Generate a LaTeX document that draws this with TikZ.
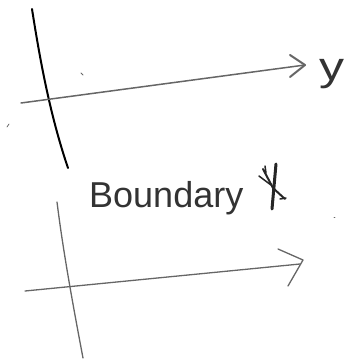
\documentclass[tikz,border=0pt]{standalone}
\usepackage{fontspec}
\setmainfont{Liberation Sans}
\begin{document}
\begin{tikzpicture}[x=1pt,y=-1pt,
  pen/.style={line width=1.6pt,line cap=round,line join=round,black!85},
  penlight/.style={line width=1.3pt,line cap=round,line join=round,black!60},
  hand/.style={inner sep=0pt,text=black!80}]
\useasboundingbox (0,0) rectangle (359,360);
% top axes
\coordinate (t1) at (32,9);
\coordinate (t2) at (68,168);
\coordinate (h1) at (21,103);
\coordinate (h2) at (305,65);
\draw[pen,line width=2pt,black] (t1) .. controls (40,60) and (50,115) .. (t2);
\draw[penlight,line width=1.5pt] (h1) -- (h2);
\draw[penlight,line width=2pt] (290,55) -- (h2) -- (290,77);
\node[hand,anchor=base west,font=\fontsize{40}{40}\selectfont,xscale=1.25] (ylab) at (319,80) {y};
% stray marks
\draw[penlight,line width=0.8pt] (7,127) -- (9,124);
\draw[penlight,line width=0.8pt] (81,73) -- (83,75);
\draw[penlight,line width=0.8pt] (334,217) -- (335,217);
% label
\node[hand,anchor=base west,font=\fontsize{36}{36}\selectfont] (bnd) at (89,207) {Boundary};
% scribbled symbol
\draw[pen,line width=3pt] (276,164) -- (272,209);
\draw[pen,line width=2pt] (263,169) -- (273,188) -- (285,199);
\draw[pen,line width=1.5pt] (259,176) -- (271,185);
\draw[pen,line width=1.5pt] (265,166) -- (266,173);
\draw[pen,line width=1.5pt] (280,199) -- (286,198);
% bottom axes
\coordinate (b1) at (57,202);
\coordinate (b2) at (83,358);
\coordinate (g1) at (25,291);
\coordinate (g2) at (300,264);
\draw[penlight] (b1) .. controls (63,250) and (72,300) .. (b2);
\draw[penlight] (g1) -- (g2);
\draw[penlight] (278,249) -- (303,260) -- (288,286);
\end{tikzpicture}
\end{document}
